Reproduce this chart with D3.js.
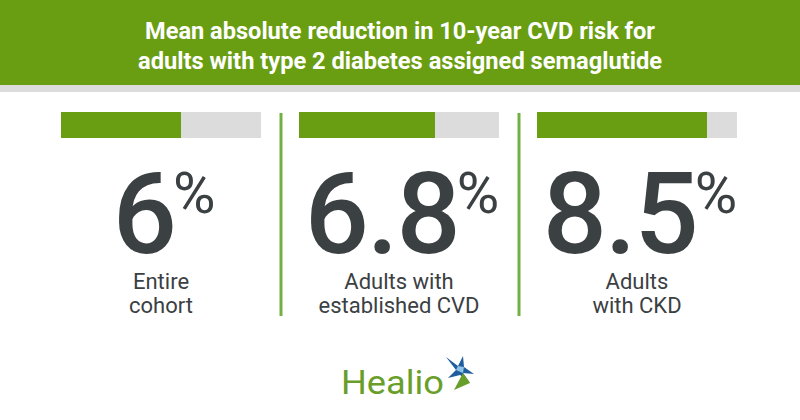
<!DOCTYPE html>
<html>
<head>
<meta charset="utf-8">
<script src="https://cdn.jsdelivr.net/npm/d3@7"></script>
<style>
  body { margin: 0; background: #fff; }
  text { font-family: Roboto, "Noto Sans", sans-serif; }
</style>
</head>
<body>
<div id="chart-area"></div>
<script>
// data
var titleLines = ["Mean absolute reduction in 10-year CVD risk for",
                  "adults with type 2 diabetes assigned semaglutide"];
var groups = ["Entire cohort", "Adults with established CVD", "Adults with CKD"];
var groupLines = [["Entire", "cohort"], ["Adults with", "established CVD"], ["Adults", "with CKD"]];
var values = [6, 6.8, 8.5];
var valueLabels = ["6", "6.8", "8.5"];
var maxValue = 10;

var width = 800, height = 420;
var green = "#6a9e12", gray = "#dcdcdc", dark = "#3b4043";

var svg = d3.select("#chart-area")
  .append("svg")
    .attr("width", width)
    .attr("height", height);

//header band
svg.append("rect").attr("x", 0).attr("y", 0).attr("width", width).attr("height", 85).attr("fill", green);
svg.append("rect").attr("x", 0).attr("y", 85).attr("width", width).attr("height", 7).attr("fill", gray);

var titleLen = [510, 524];
svg.selectAll(".title")
  .data(titleLines)
  .enter().append("text")
    .attr("class", "title")
    .attr("x", width / 2)
    .attr("y", (d, i) => 39 + i * 30)
    .attr("text-anchor", "middle")
    .attr("fill", "#fff")
    .attr("font-size", 23)
    .attr("font-weight", 700)
    .attr("textLength", (d, i) => titleLen[i])
    .attr("lengthAdjust", "spacingAndGlyphs")
    .text(d => d);

//scales
var cx = d3.scalePoint().domain(d3.range(groups.length)).range([161, 637]);
var x = d3.scaleLinear().domain([0, maxValue]).range([0, 200]);

//dividers between panels
var mids = d3.range(groups.length - 1).map(i => (cx(i) + cx(i + 1)) / 2 + 1);
svg.selectAll(".divider")
  .data(mids)
  .enter().append("line")
    .attr("x1", d => d).attr("x2", d => d)
    .attr("y1", 113).attr("y2", 316)
    .attr("stroke", "#72b043")
    .attr("stroke-width", 3);

var panel = svg.selectAll(".panel")
  .data(values)
  .enter().append("g")
    .attr("class", "panel")
    .attr("transform", (d, i) => "translate(" + cx(i) + ",0)");

//bar background + value
panel.append("rect")
  .attr("x", -x(maxValue) / 2).attr("y", 112)
  .attr("width", x(maxValue)).attr("height", 26)
  .attr("fill", gray);
panel.append("rect")
  .attr("x", -x(maxValue) / 2).attr("y", 112)
  .attr("width", d => x(d)).attr("height", 26)
  .attr("fill", green);

//big number
var num = panel.append("text")
  .attr("x", 3)
  .attr("y", 253)
  .attr("text-anchor", "middle")
  .attr("fill", dark)
  .attr("font-size", 113)
  .attr("font-weight", 500)
  .attr("letter-spacing", -2);
num.append("tspan").text((d, i) => valueLabels[i]);
num.append("tspan")
  .attr("font-size", 58)
  .attr("font-weight", 400)
  .attr("letter-spacing", 0)
  .attr("dx", -2)
  .attr("dy", -40)
  .text("%");

//group labels
panel.each(function(d, i) {
  d3.select(this).selectAll(".lbl")
    .data(groupLines[i])
    .enter().append("text")
      .attr("class", "lbl")
      .attr("y", (t, j) => 289 + j * 24)
      .attr("text-anchor", "middle")
      .attr("fill", dark)
      .attr("font-size", 22)
      .text(t => t);
});

//logo
svg.append("text")
  .attr("x", 341).attr("y", 394)
  .attr("fill", "#6a9e2a")
  .attr("font-family", "Lato, 'Open Sans', sans-serif")
  .attr("font-size", 34)
  .attr("textLength", 103)
  .attr("lengthAdjust", "spacingAndGlyphs")
  .text("Healio");

var star = svg.append("g").attr("transform", "translate(460,370)");
star.append("path")
  .attr("d", "M-14,-13 L-2,-4 L3,-14 L4,-3 L14,4 L3,3 L10,13 L0,5 L-12,8 L-4,0 Z")
  .attr("fill", "#1f5d9e");
star.append("path")
  .attr("d", "M-2,-4 L4,-3 L3,3 L-4,0 Z")
  .attr("fill", "#8fc3e8");
star.append("path")
  .attr("d", "M3,3 L10,13 L-6,20 Z")
  .attr("fill", "#6a9e2a");
</script>
</body>
</html>
